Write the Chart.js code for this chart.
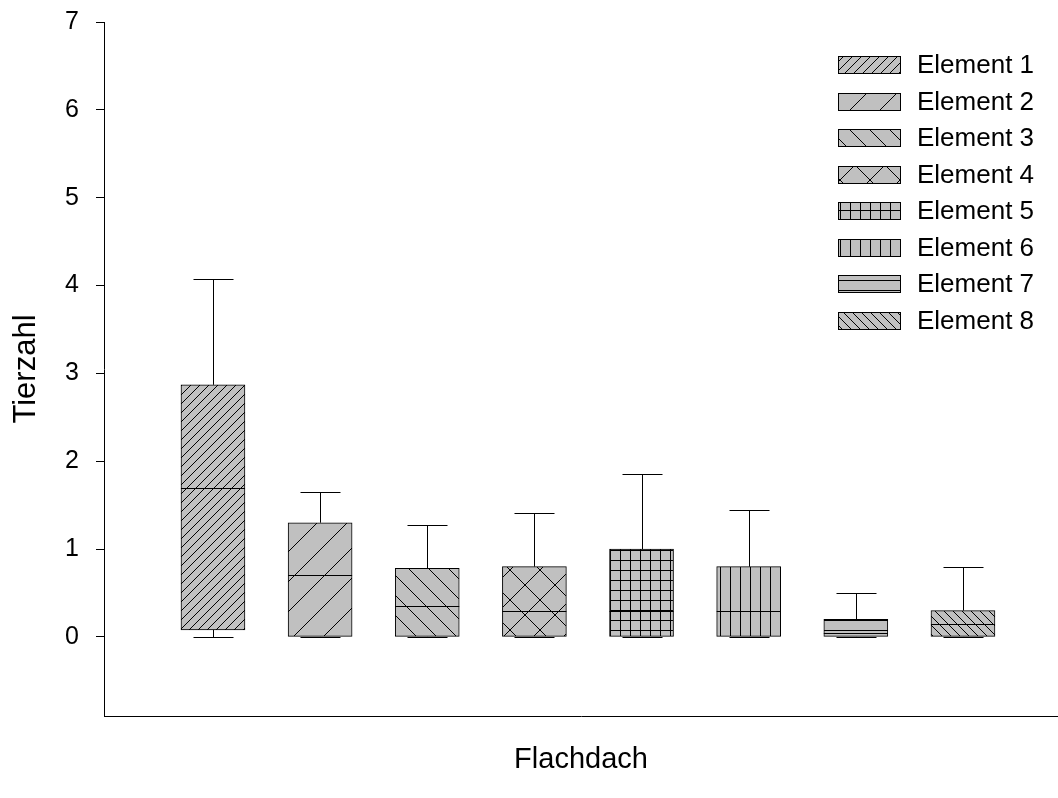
<!DOCTYPE html>
<html>
<head>
<meta charset="utf-8">
<script src="https://cdn.jsdelivr.net/npm/chart.js@4.4.1/dist/chart.umd.min.js"></script>
<style>
  html, body { margin: 0; padding: 0; background: #fff; }
  #wrap { width: 1058px; height: 798px; }
</style>
</head>
<body>
<div id="wrap"><canvas id="boxChart" width="1058" height="798"></canvas></div>
<script>
"use strict";

// box plot values per element
var categories = ["Element 1", "Element 2", "Element 3", "Element 4", "Element 5", "Element 6", "Element 7", "Element 8"];
var positions = [1, 2, 3, 4, 5, 6, 7, 8];
var whiskerLow = [0, 0, 0, 0, 0, 0, 0, 0];
var q1 = [0.08, 0, 0, 0, 0, 0, 0, 0];
var median = [1.7, 0.7, 0.35, 0.3, 0.3, 0.3, 0.05, 0.15];
var q3 = [2.87, 1.3, 0.78, 0.8, 1.0, 0.8, 0.2, 0.3];
var whiskerHigh = [4.07, 1.65, 1.27, 1.41, 1.85, 1.44, 0.5, 0.8];
var yTicks = [0, 1, 2, 3, 4, 5, 6, 7];

var FONT = "'Liberation Sans', Arial, sans-serif";
var FILL = "#c0c0c0";

function makePattern(kind) {
  var sizes = { diagFine: 9, diagWide: 30, backWide: 20, cross: 30, grid: 10, vert: 10, horiz: 10, backFine: 9 };
  var s = sizes[kind];
  var c = document.createElement("canvas");
  c.width = s;
  c.height = s;
  var g = c.getContext("2d");
  g.fillStyle = FILL;
  g.fillRect(0, 0, s, s);
  g.strokeStyle = "#000";
  g.lineWidth = 1;
  g.beginPath();
  var fwd = function () {
    g.moveTo(-1, s + 1); g.lineTo(s + 1, -1);
    g.moveTo(-2, 2); g.lineTo(2, -2);
    g.moveTo(s - 2, s + 2); g.lineTo(s + 2, s - 2);
  };
  var back = function () {
    g.moveTo(-1, -1); g.lineTo(s + 1, s + 1);
    g.moveTo(-2, s - 2); g.lineTo(2, s + 2);
    g.moveTo(s - 2, -2); g.lineTo(s + 2, 2);
  };
  if (kind === "diagFine" || kind === "diagWide") fwd();
  if (kind === "backWide" || kind === "backFine") back();
  if (kind === "cross") { fwd(); back(); }
  if (kind === "grid" || kind === "vert") { g.moveTo(0.5, 0); g.lineTo(0.5, s); }
  if (kind === "grid" || kind === "horiz") { g.moveTo(0, 0.5); g.lineTo(s, 0.5); }
  g.stroke();
  return g.createPattern(c, "repeat");
}

var patternKinds = ["diagFine", "diagWide", "backWide", "cross", "grid", "vert", "horiz", "backFine"];
var patterns = patternKinds.map(makePattern);

var datasets = categories.map(function (name, i) {
  return {
    label: name,
    data: [{ x: positions[i], y: [q1[i], q3[i]] }],
    backgroundColor: patterns[i],
    borderColor: "#000",
    borderWidth: 1,
    borderSkipped: false,
    barThickness: 64,
    grouped: false,
  };
});

// whiskers, caps and median lines, placed through the chart scales
var boxExtras = {
  id: "boxExtras",
  afterDatasetsDraw: function (chart) {
    var ctx = chart.ctx;
    var xs = chart.scales.x;
    var ys = chart.scales.y;
    ctx.save();
    ctx.strokeStyle = "#000";
    ctx.lineWidth = 1;
    categories.forEach(function (name, i) {
      var bar = chart.getDatasetMeta(i).data[0];
      var cx = Math.round(xs.getPixelForValue(positions[i])) + 0.5;
      var half = bar.width / 2;
      var cap = 20;
      var yHi = Math.round(ys.getPixelForValue(whiskerHigh[i])) + 0.5;
      var yQ3 = ys.getPixelForValue(q3[i]);
      var yLo = Math.round(ys.getPixelForValue(whiskerLow[i])) + 0.5;
      var yQ1 = ys.getPixelForValue(q1[i]);
      var yMed = Math.round(ys.getPixelForValue(median[i])) + 0.5;
      ctx.beginPath();
      ctx.moveTo(cx, yQ3); ctx.lineTo(cx, yHi);
      ctx.moveTo(cx - cap, yHi); ctx.lineTo(cx + cap, yHi);
      ctx.moveTo(cx, yQ1); ctx.lineTo(cx, yLo);
      ctx.moveTo(cx - cap, yLo); ctx.lineTo(cx + cap, yLo);
      ctx.moveTo(bar.x - half, yMed); ctx.lineTo(bar.x + half, yMed);
      ctx.stroke();
    });
    ctx.restore();
  },
  afterDraw: function (chart) {
    // legend inside the plot, upper right
    var ctx = chart.ctx;
    var area = chart.chartArea;
    var bx = area.right - 220;
    var by = area.top + 34;
    ctx.save();
    ctx.font = "26px " + FONT;
    ctx.textBaseline = "middle";
    ctx.textAlign = "left";
    categories.forEach(function (name, i) {
      var top = Math.round(by + i * 36.5) + 0.5;
      ctx.fillStyle = patterns[i];
      ctx.fillRect(bx + 0.5, top, 62, 17);
      ctx.strokeStyle = "#000";
      ctx.lineWidth = 1;
      ctx.strokeRect(bx + 0.5, top, 62, 17);
      ctx.fillStyle = "#000";
      ctx.fillText(name, bx + 79, top + 9);
    });
    ctx.restore();
  },
};

new Chart(document.getElementById("boxChart"), {
  type: "bar",
  data: { datasets: datasets },
  options: {
    responsive: false,
    animation: false,
    devicePixelRatio: 1,
    layout: { padding: { top: 22, right: 0, bottom: 0, left: 0 } },
    plugins: {
      legend: { display: false },
      tooltip: { enabled: false },
    },
    scales: {
      x: {
        type: "linear",
        min: -0.017,
        max: 8.887,
        offset: false,
        ticks: { display: false },
        grid: { display: false },
        border: { display: true, color: "#000", width: 1 },
        title: {
          display: true,
          text: "Flachdach",
          color: "#000",
          font: { family: FONT, size: 29 },
          padding: { top: 0, bottom: 21 },
        },
        afterFit: function (scale) {
          scale.height = 82;
          scale.paddingLeft = 0;
          scale.paddingRight = 0;
        },
      },
      y: {
        type: "linear",
        min: -0.9,
        max: 7,
        afterBuildTicks: function (axis) {
          axis.ticks = yTicks.map(function (v) { return { value: v }; });
        },
        ticks: {
          color: "#000",
          padding: 17,
          font: { family: FONT, size: 25 },
        },
        grid: {
          drawOnChartArea: false,
          drawTicks: true,
          tickLength: 8,
          color: "#000",
          lineWidth: 1,
        },
        border: { display: true, color: "#000", width: 1 },
        title: {
          display: true,
          text: "Tierzahl",
          color: "#000",
          font: { family: FONT, size: 31 },
          padding: { top: 8, bottom: 0 },
        },
        afterFit: function (scale) {
          scale.width = 104;
          scale.paddingTop = 0;
          scale.paddingBottom = 0;
        },
      },
    },
  },
  plugins: [boxExtras],
});
</script>
</body>
</html>
